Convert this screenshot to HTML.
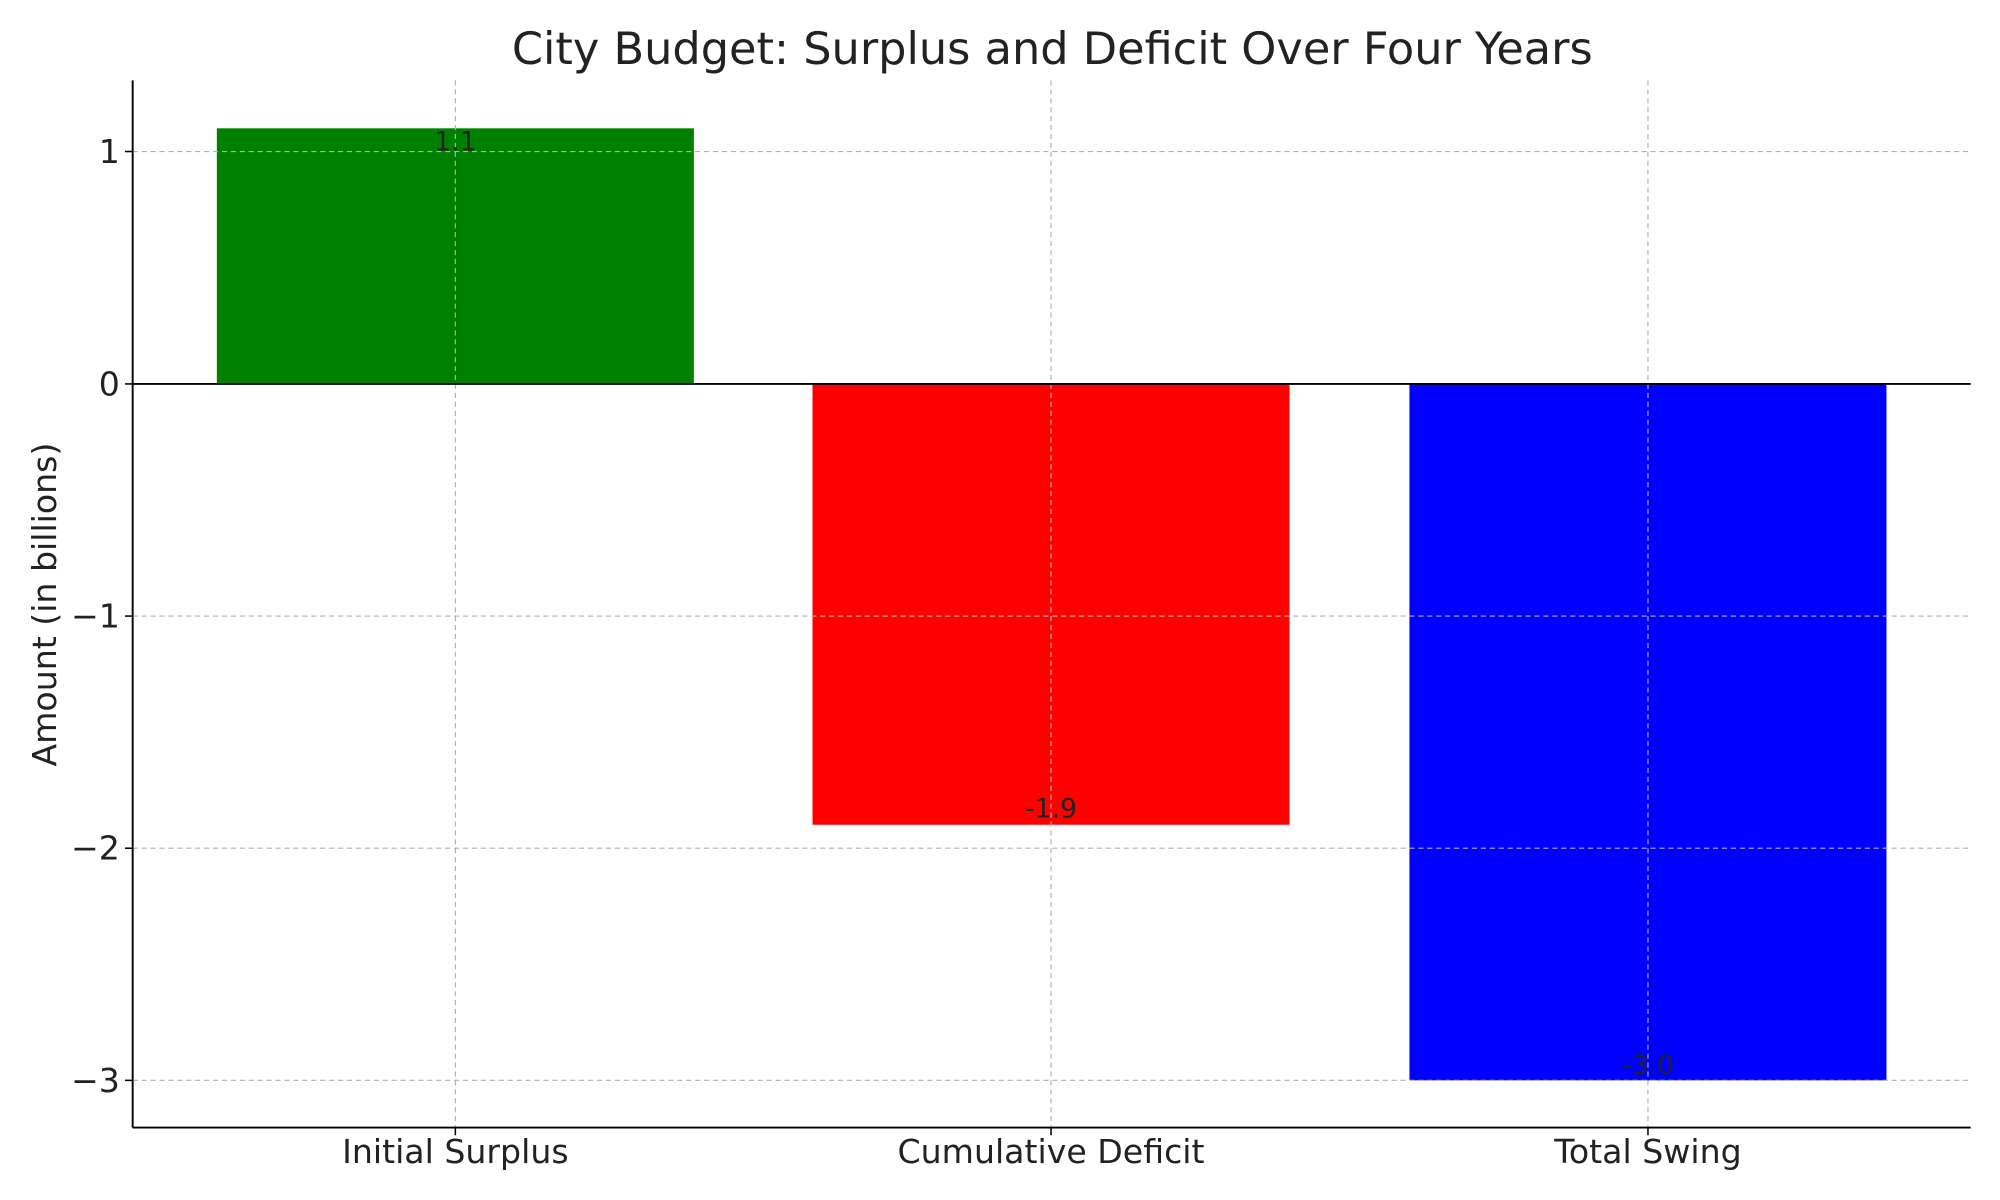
<!DOCTYPE html>
<html><head><meta charset="utf-8"><style>
html,body{margin:0;padding:0;background:#fff;}
svg{display:block;}
text{font-family:"DejaVu Sans","Liberation Sans",sans-serif;fill:#222;}
</style></head><body>
<svg width="2000" height="1200" viewBox="0 0 1568 940.8" preserveAspectRatio="none" xmlns="http://www.w3.org/2000/svg">
<rect width="1568" height="940.8" fill="#fff"/>
<text x="825" y="50" font-size="35" text-anchor="middle" fill="#333">City Budget: Surplus and Deficit Over Four Years</text>
<rect x="170" y="100.6" width="374" height="200.4" fill="#008000"/>
<rect x="637" y="301" width="374" height="345.6" fill="#ff0000"/>
<rect x="1105" y="301" width="374" height="546" fill="#0000ff"/>
<g stroke="#b0b0b0" stroke-width="0.9" stroke-dasharray="4,3" fill="none">
<line x1="104" x2="1545" y1="118.8" y2="118.8"/>
<line x1="104" x2="1545" y1="483" y2="483"/>
<line x1="104" x2="1545" y1="665" y2="665"/>
<line x1="104" x2="1545" y1="847" y2="847"/>
<line x1="357" x2="357" y1="63" y2="884"/>
<line x1="824" x2="824" y1="63" y2="884"/>
<line x1="1292" x2="1292" y1="63" y2="884"/>
</g>
<line x1="104" x2="1545" y1="301" y2="301" stroke="#000" stroke-width="1.5"/>
<line x1="104" x2="104" y1="63" y2="884" stroke="#000" stroke-width="1.5"/>
<line x1="104" x2="1545" y1="884" y2="884" stroke="#000" stroke-width="1.5"/>
<g stroke="#000" stroke-width="1.2">
<line x1="98" x2="104" y1="118.8" y2="118.8"/>
<line x1="98" x2="104" y1="301" y2="301"/>
<line x1="98" x2="104" y1="483" y2="483"/>
<line x1="98" x2="104" y1="665" y2="665"/>
<line x1="98" x2="104" y1="847" y2="847"/>
<line x1="357" x2="357" y1="884" y2="890"/>
<line x1="824" x2="824" y1="884" y2="890"/>
<line x1="1292" x2="1292" y1="884" y2="890"/>
</g>
<g font-size="26" text-anchor="end" fill="#111">
<text x="94" y="128">1</text>
<text x="94" y="310">0</text>
<text x="94" y="492">−1</text>
<text x="94" y="674">−2</text>
<text x="94" y="856">−3</text>
</g>
<g font-size="26" text-anchor="middle">
<text x="357" y="912">Initial Surplus</text>
<text x="824" y="912">Cumulative Deficit</text>
<text x="1292" y="912">Total Swing</text>
</g>
<text transform="translate(44,474) rotate(-90)" font-size="26" text-anchor="middle">Amount (in billions)</text>
<g font-size="21" text-anchor="middle" fill="#333">
<text x="357" y="118">1.1</text>
<text x="824" y="641">-1.9</text>
<text x="1292" y="842">-3.0</text>
</g>
</svg>
</body></html>
